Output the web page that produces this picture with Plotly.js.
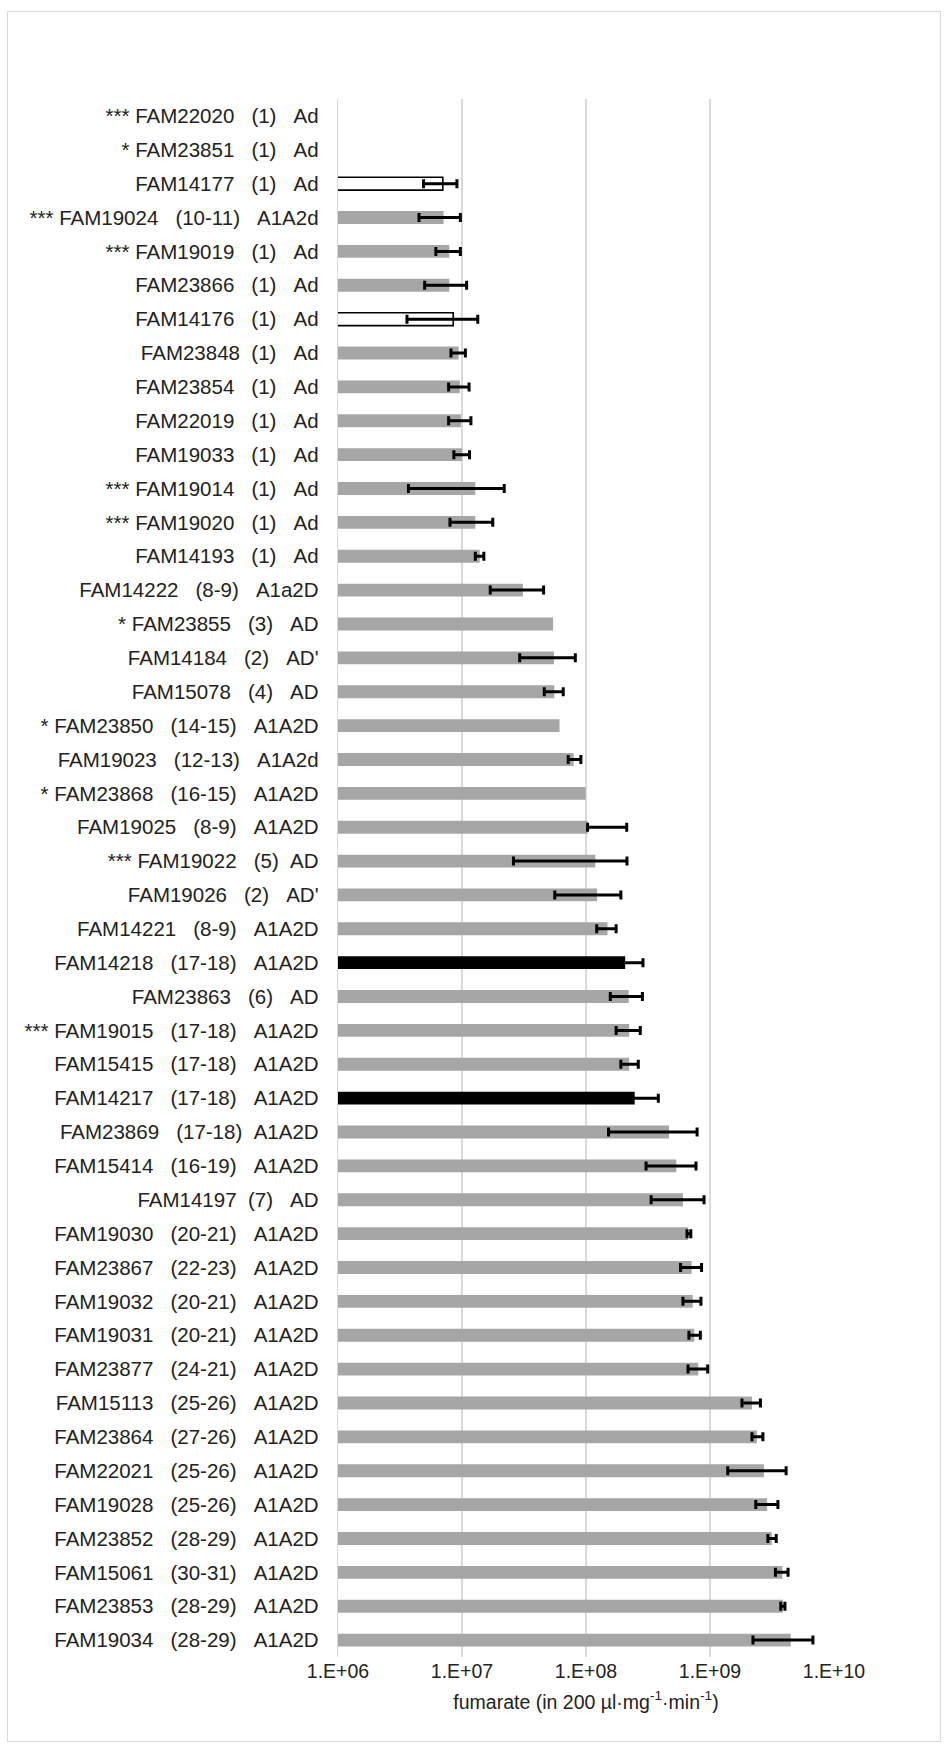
<!DOCTYPE html>
<html>
<head>
<meta charset="utf-8">
<script src="https://cdn.plot.ly/plotly-3.0.1.min.js"></script>
<style>
  html, body { margin: 0; padding: 0; background: #ffffff; }
  #wrap { position: relative; width: 944px; height: 1745px; }
  #frame { position: absolute; left: 7px; top: 11px; right: 3px; bottom: 3px; border: 1.5px solid #d9d9d9; box-sizing: border-box; pointer-events: none; }
  #chart { position: absolute; left: 0; top: 0; width: 944px; height: 1745px; }
</style>
</head>
<body>
<div id="wrap">
  <div id="frame"></div>
  <div id="chart"></div>
</div>
<script>
// ---- data (top to bottom) ----
const labels = [
  "*** FAM22020   (1)   Ad",
  "* FAM23851   (1)   Ad",
  "FAM14177   (1)   Ad",
  "*** FAM19024   (10-11)   A1A2d",
  "*** FAM19019   (1)   Ad",
  "FAM23866   (1)   Ad",
  "FAM14176   (1)   Ad",
  "FAM23848  (1)   Ad",
  "FAM23854   (1)   Ad",
  "FAM22019   (1)   Ad",
  "FAM19033   (1)   Ad",
  "*** FAM19014   (1)   Ad",
  "*** FAM19020   (1)   Ad",
  "FAM14193   (1)   Ad",
  "FAM14222   (8-9)   A1a2D",
  "* FAM23855   (3)   AD",
  "FAM14184   (2)   AD'",
  "FAM15078   (4)   AD",
  "* FAM23850   (14-15)   A1A2D",
  "FAM19023   (12-13)   A1A2d",
  "* FAM23868   (16-15)   A1A2D",
  "FAM19025   (8-9)   A1A2D",
  "*** FAM19022   (5)  AD",
  "FAM19026   (2)   AD'",
  "FAM14221   (8-9)   A1A2D",
  "FAM14218   (17-18)   A1A2D",
  "FAM23863   (6)   AD",
  "*** FAM19015   (17-18)   A1A2D",
  "FAM15415   (17-18)   A1A2D",
  "FAM14217   (17-18)   A1A2D",
  "FAM23869   (17-18)  A1A2D",
  "FAM15414   (16-19)   A1A2D",
  "FAM14197  (7)   AD",
  "FAM19030   (20-21)   A1A2D",
  "FAM23867   (22-23)   A1A2D",
  "FAM19032   (20-21)   A1A2D",
  "FAM19031   (20-21)   A1A2D",
  "FAM23877   (24-21)   A1A2D",
  "FAM15113   (25-26)   A1A2D",
  "FAM23864   (27-26)   A1A2D",
  "FAM22021   (25-26)   A1A2D",
  "FAM19028   (25-26)   A1A2D",
  "FAM23852   (28-29)   A1A2D",
  "FAM15061   (30-31)   A1A2D",
  "FAM23853   (28-29)   A1A2D",
  "FAM19034   (28-29)   A1A2D"
];

// fumarate values (null = no bar)
const fumarate = [
  null, null, 7.0e6, 7.1e6, 7.9e6, 7.9e6, 8.5e6, 9.4e6, 9.6e6, 9.8e6,
  1.0e7, 1.28e7, 1.28e7, 1.39e7, 3.1e7, 5.42e7, 5.52e7, 5.55e7, 6.12e7, 7.94e7,
  9.93e7, 1.03e8, 1.19e8, 1.23e8, 1.49e8, 2.07e8, 2.21e8, 2.23e8, 2.23e8, 2.47e8,
  4.67e8, 5.35e8, 6.05e8, 6.65e8, 7.11e8, 7.25e8, 7.47e8, 8.05e8, 2.18e9, 2.39e9,
  2.72e9, 2.89e9, 3.15e9, 3.83e9, 3.87e9, 4.48e9
];

// error bar extents (null = no error bar)
const errPlus = [
  null, null, 2.1e6, 2.6e6, 1.8e6, 3.0e6, 4.9e6, 1.25e6, 1.8e6, 2.0e6,
  1.5e6, 9.1e6, 4.9e6, 1.1e6, 1.45e7, null, 2.68e7, 1.0e7, null, 1.15e7,
  null, 1.1e8, 9.5e7, 6.8e7, 2.6e7, 8.1e7, 6.4e7, 5.1e7, 4.1e7, 1.36e8,
  3.2e8, 2.36e8, 2.9e8, 3.5e7, 1.44e8, 1.2e8, 8.9e7, 1.53e8, 3.7e8, 2.8e8,
  1.39e9, 6.4e8, 2.7e8, 4.3e8, 1.5e8, 2.28e9
];
const errMinus = [
  null, null, 2.1e6, 2.6e6, 1.75e6, 2.9e6, 4.9e6, 1.25e6, 1.8e6, 2.0e6,
  1.4e6, 9.1e6, 4.8e6, 1.1e6, 1.41e7, null, 2.6e7, 0.94e7, null, 0.75e7,
  null, 0, 9.3e7, 6.7e7, 2.7e7, 8.1e7, 6.4e7, 4.8e7, 3.2e7, 1.36e8,
  3.15e8, 2.3e8, 2.7e8, 1.2e7, 1.32e8, 1.2e8, 7.1e7, 1.4e8, 3.7e8, 2.1e8,
  1.33e9, 5.5e8, 2.2e8, 4.6e8, 1.5e8, 2.26e9
];

const blackStrains = ["FAM14218", "FAM14217"];
const openStrains = ["FAM14177", "FAM14176"];

const xTickVals = [1e6, 1e7, 1e8, 1e9, 1e10];
const xTickText = ["1.E+06", "1.E+07", "1.E+08", "1.E+09", "1.E+10"];

// ---- build ----
const cats = labels.map(s => s.replace(/ /g, "\u00a0"));
const strainOf = s => (s.match(/FAM\d+/) || [""])[0];
const fillColors = labels.map(s => {
  const st = strainOf(s);
  if (blackStrains.includes(st)) return "#000000";
  if (openStrains.includes(st)) return "#ffffff";
  return "#a6a6a6";
});
const lineWidths = labels.map(s => openStrains.includes(strainOf(s)) ? 1.6 : 0);
const toErr = a => a.map(v => (v === null ? NaN : v));

const FONT = "Liberation Sans, Arial, sans-serif";
const TXT = "#222222";

const trace = {
  type: "bar",
  orientation: "h",
  y: cats,
  x: fumarate,
  marker: {
    color: fillColors,
    line: { color: "#000000", width: lineWidths }
  },
  error_x: {
    type: "data",
    symmetric: false,
    array: toErr(errPlus),
    arrayminus: toErr(errMinus),
    color: "#000000",
    thickness: 3,
    width: 4.5,
    visible: true
  },
  hoverinfo: "skip"
};

const layout = {
  width: 944,
  height: 1745,
  paper_bgcolor: "rgba(0,0,0,0)",
  plot_bgcolor: "rgba(0,0,0,0)",
  margin: { l: 338, r: 110, t: 99, b: 88 },
  bargap: 0.62,
  showlegend: false,
  font: { family: FONT, size: 20, color: TXT },
  xaxis: {
    type: "log",
    range: [6, 10],
    tickmode: "array",
    tickvals: xTickVals,
    ticktext: xTickText,
    showgrid: true,
    gridcolor: "#d9d9d9",
    gridwidth: 1.3,
    showline: false,
    zeroline: false,
    ticks: "",
    tickfont: { family: FONT, size: 19.5, color: TXT },
    title: {
      text: "fumarate (in 200 µl·mg<sup>-1</sup>·min<sup>-1</sup>)",
      font: { family: FONT, size: 19.5, color: TXT },
      standoff: 14
    },
    automargin: false,
    fixedrange: true
  },
  yaxis: {
    type: "category",
    autorange: "reversed",
    showgrid: false,
    showline: true,
    linecolor: "#d9d9d9",
    linewidth: 1.3,
    zeroline: false,
    ticks: "",
    ticklabelstandoff: 14,
    tickfont: { family: FONT, size: 20.5, color: TXT },
    automargin: false,
    fixedrange: true
  }
};

Plotly.newPlot("chart", [trace], layout, { displayModeBar: false, staticPlot: true });
</script>
</body>
</html>
